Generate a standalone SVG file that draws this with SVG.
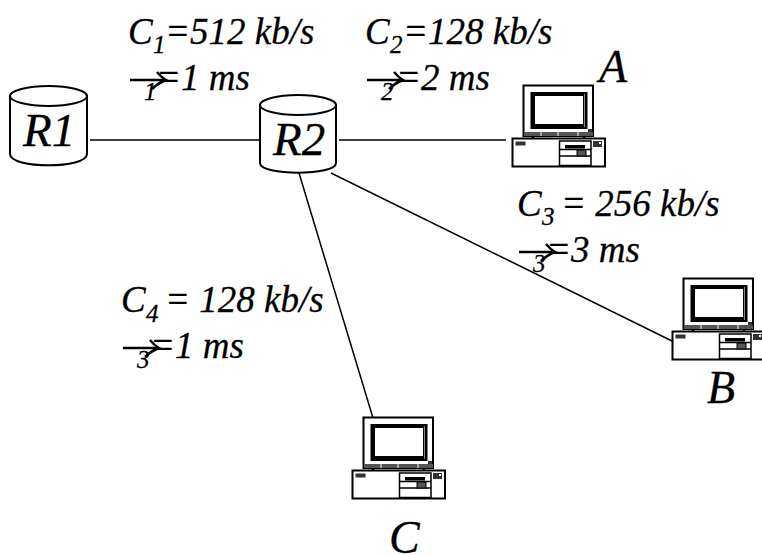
<svg xmlns="http://www.w3.org/2000/svg" xmlns:xlink="http://www.w3.org/1999/xlink" width="762" height="555" viewBox="0 0 762 555">
<style>
text{font-family:"Liberation Serif","Times New Roman",serif;font-style:italic;fill:#000;stroke:#000;stroke-width:.3}
.l{font-size:37px}.s{font-size:25px}.n{font-size:47px}.p{font-size:46px}
.k{fill:none;stroke:#000;stroke-width:1.5}
.w{fill:#fff;stroke:#000;stroke-width:2}
.a{fill:none;stroke:#000;stroke-width:2.500}
</style>
<defs>
<g id="pc">
<rect x="523.500" y="85.500" width="69.500" height="50.500" class="w"/>
<rect x="530.500" y="92" width="57" height="37" fill="#000"/>
<rect x="535" y="96" width="48" height="28" fill="#fff"/>
<path d="M584.500 94V127" stroke="#888" stroke-width="1"/>
<rect x="524" y="132" width="69" height="4" fill="#555"/>
<path d="M541 132V136M558 132V136M578 132V136" stroke="#fff" stroke-width="1"/>
<rect x="588" y="129" width="4" height="3" fill="#333"/>
<path d="M533 136V139M584 136V139" class="a" stroke-width="2"/>
<rect x="512.500" y="138.500" width="92.500" height="28" class="w"/>
<rect x="515.500" y="141.500" width="10" height="4" fill="#333"/>
<path d="M559.500 141V165.500H591V141ZM559.500 149.500H591M559.500 156H591" class="k"/>
<rect x="565" y="145" width="20" height="3.500" fill="#000"/>
<rect x="577" y="150" width="9" height="6" fill="#555" stroke="#000"/>
<rect x="593" y="141" width="9" height="6" fill="#333"/>
<rect x="599" y="142" width="2" height="2" fill="#fff"/>
</g>
<path id="arr" d="M0 0H35M27 -8Q31 -3 36 0Q28 3 22 9" class="a"/>
</defs>
<g id="connectors" class="k">
<path d="M90 140H260"/>
<path d="M339 140H506"/>
<path d="M331 173L674 342"/>
<path d="M299 173L373 418"/>
</g>
<g id="R1">
<path d="M10 96V154C10 169 87 169 87 154V96Z" class="w"/>
<ellipse cx="48.500" cy="96" rx="38.500" ry="10" class="w"/>
<text x="23" y="146" class="n">R1</text>
</g>
<g id="R2">
<path d="M260 105V163C260 176 336 176 336 163V105Z" class="w"/>
<ellipse cx="298" cy="105" rx="38" ry="10" class="w"/>
<text x="273" y="155" class="n">R2</text>
</g>
<g id="A">
<use href="#pc" xlink:href="#pc"/>
<text x="599" y="82" class="p">A</text>
</g>
<g id="B">
<use href="#pc" xlink:href="#pc" transform="translate(160 193)"/>
<text x="707" y="403" class="p">B</text>
</g>
<g id="C">
<use href="#pc" xlink:href="#pc" transform="translate(-160 332)"/>
<text x="389" y="553" class="p">C</text>
</g>
<g id="label-link1">
<text x="128" y="44" class="l">C</text><text x="153" y="53" class="s">1</text><text x="165" y="44" class="l">=512 kb/s</text>
<use href="#arr" xlink:href="#arr" x="130" y="80"/><text x="144" y="100" class="s">1</text><text x="156" y="90" class="l">=1 ms</text>
</g>
<g id="label-link2">
<text x="365" y="44" class="l">C</text><text x="390" y="53" class="s">2</text><text x="403" y="44" class="l">=128 kb/s</text>
<use href="#arr" xlink:href="#arr" x="367" y="80"/><text x="381" y="100" class="s">2</text><text x="396" y="90" class="l">=2 ms</text>
</g>
<g id="label-link3">
<text x="517" y="216" class="l">C</text><text x="542" y="225" class="s">3</text><text x="561" y="216" class="l">= 256 kb/s</text>
<use href="#arr" xlink:href="#arr" x="519" y="252"/><text x="533" y="272" class="s">3</text><text x="546" y="262" class="l">=3 ms</text>
</g>
<g id="label-link4">
<text x="121" y="312" class="l">C</text><text x="146" y="322" class="s">4</text><text x="165" y="312" class="l">= 128 kb/s</text>
<use href="#arr" xlink:href="#arr" x="123" y="348"/><text x="137" y="368" class="s">3</text><text x="150" y="358" class="l">=1 ms</text>
</g>
</svg>
